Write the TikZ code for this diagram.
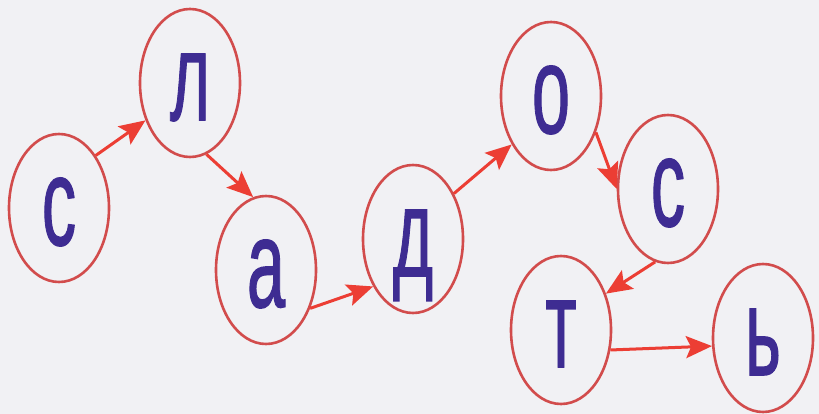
\documentclass[tikz,border=0pt]{standalone}
\usepackage{fontspec}
\setmainfont{Liberation Sans}
\newfontfamily\letterfont[FakeBold=1.2]{Liberation Sans}
\usetikzlibrary{shapes.geometric,arrows.meta}
\definecolor{paper}{RGB}{241,241,244}
\definecolor{ring}{RGB}{210,76,76}
\definecolor{arr}{RGB}{236,62,52}
\definecolor{ink}{RGB}{62,44,146}
\tikzset{
  letterbox/.style={ellipse, draw=ring, line width=2.6pt,
    minimum width=100pt, minimum height=148pt, inner sep=0pt,
    text=ink, text height=74pt, text depth=0pt,
    font=\letterfont\fontsize{125}{125}\selectfont},
  link/.style={draw=arr, line width=3pt,
    -{Stealth[length=26pt,width=22pt,inset=5pt]}}
}
\newcommand{\nar}[1]{\scalebox{0.55}[1]{#1}}
\begin{document}
\begin{tikzpicture}[x=1pt,y=-1pt]
\fill[paper] (0,0) rectangle (819,414);
\useasboundingbox (0,0) rectangle (819,414);
\node[letterbox] (c1) at (59,208) {\nar{с}};
\node[letterbox] (l)  at (190,83)  {\nar{л}};
\node[letterbox] (a)  at (266,270) {\nar{а}};
\node[letterbox] (d)  at (413,239) {\nar{д}};
\node[letterbox] (o)  at (551,96)  {\nar{о}};
\node[letterbox] (c2) at (668,189) {\nar{с}};
\node[letterbox] (t)  at (561,330) {\nar{т}};
\node[letterbox] (b)  at (763,338) {\nar{ь}};
\draw[link] (c1.55)  -- (l.220);
\draw[link] (l.283)  -- (a.100);
\draw[link] (a.319)  -- (d.230);
\draw[link] (d.48)   -- (o.231);
\draw[link] (o.321)  -- (c2.180);
\draw[link] (c2.260) -- (t.39);
\draw[link] (t.338)  -- (b.189);
\end{tikzpicture}
\end{document}
